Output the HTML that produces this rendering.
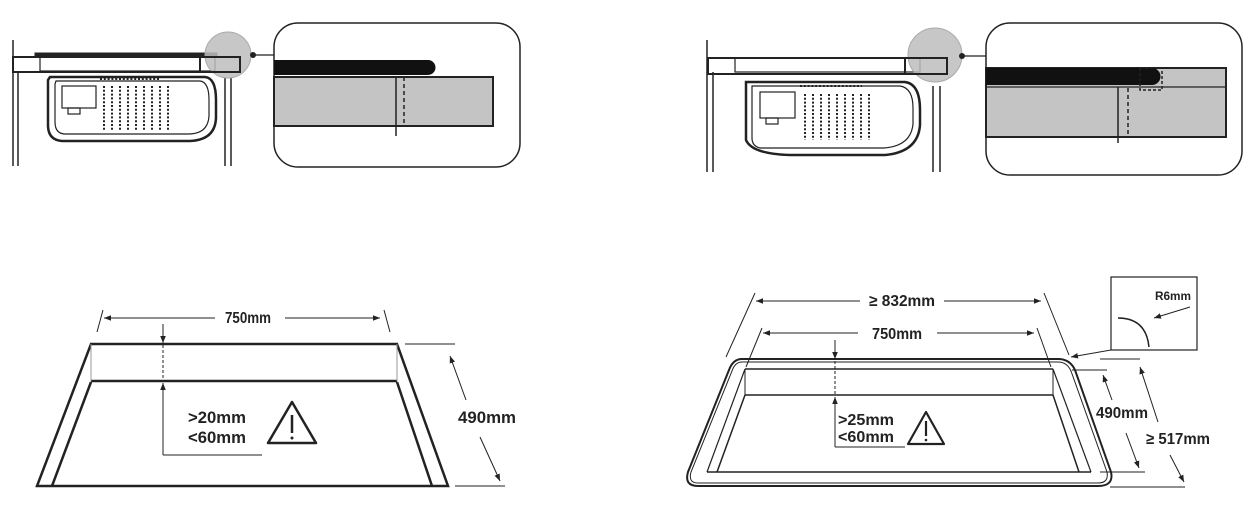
<!DOCTYPE html>
<html><head><meta charset="utf-8"><style>
html,body{margin:0;padding:0;background:#fff;}
svg{display:block;}
text{font-family:"Liberation Sans",sans-serif;font-weight:bold;fill:#222;}
</style></head><body>
<svg width="1258" height="509" viewBox="0 0 1258 509" xmlns="http://www.w3.org/2000/svg">
<defs>
<marker id="a" viewBox="0 0 10 10" refX="10" refY="5" markerWidth="7" markerHeight="7" orient="auto-start-reverse"><path d="M0,1 L10,5 L0,9 z" fill="#222"/></marker>
</defs>
<g stroke="#222" fill="none">
<!-- ===== Top-left ===== -->
<line x1="13" y1="40" x2="13" y2="166" stroke-width="1.5"/>
<line x1="18" y1="72" x2="18" y2="166" stroke-width="1.5"/>
<rect x="13" y="57" width="227" height="15" stroke-width="2"/>
<rect x="35" y="53" width="182" height="4" fill="#222" stroke-width="1"/>
<rect x="40" y="57" width="175" height="14" stroke-width="1.2"/>
<path d="M50,77 H205 Q216,78 216,100 V118 Q215,140 190,141 H62 Q48,140 48,125 V80 Z" stroke-width="2.5"/>
<path d="M56,81 H200 Q209,82 209,100 V116 Q208,134 188,134 H64 Q55,133 55,122 V84 Z" stroke-width="1.2"/>
<rect x="62" y="86" width="34" height="22" stroke-width="1.2"/>
<rect x="68" y="108" width="12" height="6" stroke-width="1.2"/>
<g stroke-width="2" stroke-dasharray="2 1.8">
<line x1="104" y1="86" x2="104" y2="131"/><line x1="112" y1="86" x2="112" y2="131"/><line x1="120" y1="86" x2="120" y2="131"/><line x1="128" y1="86" x2="128" y2="131"/><line x1="136" y1="86" x2="136" y2="131"/><line x1="144" y1="86" x2="144" y2="131"/><line x1="152" y1="86" x2="152" y2="131"/><line x1="160" y1="86" x2="160" y2="131"/><line x1="168" y1="86" x2="168" y2="131"/>
<line x1="100" y1="79" x2="160" y2="79"/>
</g>
<line x1="225" y1="78" x2="225" y2="166" stroke-width="1.5"/>
<line x1="231" y1="78" x2="231" y2="166" stroke-width="1.5"/>
<circle cx="228" cy="55" r="23" fill="#bdbdbd" stroke="#aaa" stroke-width="1" fill-opacity="0.85"/>
<rect x="200" y="57" width="40" height="15" stroke-width="2"/>
<circle cx="253" cy="55" r="3" fill="#222" stroke="none"/>
<line x1="253" y1="55" x2="274" y2="55" stroke-width="1.2"/>
<rect x="274" y="23" width="246" height="144" rx="24" stroke-width="1.5"/>
<rect x="274" y="77" width="219" height="49" fill="#c4c4c4" stroke-width="2"/>
<path d="M274,60 H428 A7.5,7.5 0 0 1 428,75 H274 Z" fill="#111" stroke="none"/>
<line x1="396" y1="77" x2="396" y2="136" stroke-width="1.5"/>
<line x1="404" y1="77" x2="404" y2="126" stroke-width="1.5" stroke-dasharray="4 3"/>

<!-- ===== Top-right ===== -->
<line x1="707" y1="40" x2="707" y2="172" stroke-width="1.5"/>
<line x1="713" y1="72" x2="713" y2="172" stroke-width="1.5"/>
<rect x="708" y="58" width="239" height="16" stroke-width="2"/>
<rect x="735" y="58" width="185" height="14" stroke-width="1.2"/>
<path d="M746,82 H905 Q920,84 920,110 V125 Q918,152 885,155 H790 Q752,154 746,140 Z" stroke-width="2.5"/>
<path d="M752,86 H900 Q913,88 913,108 V124 Q911,146 884,148 H760 Q752,146 752,138 Z" stroke-width="1.2"/>
<rect x="760" y="92" width="35" height="26" stroke-width="1.2"/>
<rect x="766" y="118" width="12" height="6" stroke-width="1.2"/>
<g stroke-width="2" stroke-dasharray="2 1.8">
<line x1="805" y1="94" x2="805" y2="140"/><line x1="813" y1="94" x2="813" y2="140"/><line x1="821" y1="94" x2="821" y2="140"/><line x1="829" y1="94" x2="829" y2="140"/><line x1="837" y1="94" x2="837" y2="140"/><line x1="845" y1="94" x2="845" y2="140"/><line x1="853" y1="94" x2="853" y2="140"/><line x1="861" y1="94" x2="861" y2="140"/><line x1="869" y1="94" x2="869" y2="140"/>
<line x1="800" y1="86" x2="862" y2="86"/>
</g>
<line x1="933" y1="86" x2="933" y2="172" stroke-width="1.5"/>
<line x1="940" y1="86" x2="940" y2="172" stroke-width="1.5"/>
<circle cx="935" cy="55" r="27" fill="#bdbdbd" stroke="#aaa" stroke-width="1" fill-opacity="0.85"/>
<rect x="905" y="58" width="42" height="16" stroke-width="2"/>
<circle cx="962" cy="56" r="3" fill="#222" stroke="none"/>
<line x1="962" y1="56" x2="986" y2="56" stroke-width="1.2"/>
<rect x="986" y="23" width="256" height="152" rx="24" stroke-width="1.5"/>
<rect x="986" y="68" width="240" height="69" fill="#c4c4c4" stroke-width="2"/>
<path d="M986,68 H1152 A8.5,8.5 0 0 1 1152,85 H986 Z" fill="#111" stroke="none"/>
<line x1="986" y1="87" x2="1226" y2="87" stroke-width="1.2"/>
<rect x="1140" y="68" width="22" height="22" stroke-width="1.5" stroke-dasharray="3 2"/>
<line x1="1118" y1="87" x2="1118" y2="143" stroke-width="1.5"/>
<line x1="1128" y1="88" x2="1128" y2="137" stroke-width="1.5" stroke-dasharray="4 3"/>

<!-- ===== Bottom-left ===== -->
<path d="M91,344 H397 L448,486 H37 Z" stroke-width="2.5"/>
<line x1="91" y1="381" x2="397" y2="381" stroke-width="2.5"/>
<line x1="91" y1="344" x2="91" y2="381" stroke-width="1" stroke="#999"/>
<line x1="397" y1="344" x2="397" y2="381" stroke-width="1" stroke="#999"/>
<line x1="91" y1="382" x2="52" y2="486" stroke-width="2.5"/>
<line x1="397" y1="382" x2="432" y2="486" stroke-width="2.5"/>
<line x1="97" y1="332" x2="103" y2="310" stroke-width="1"/>
<line x1="390" y1="332" x2="384" y2="310" stroke-width="1"/>
<line x1="104" y1="318" x2="215" y2="318" stroke-width="1" marker-start="url(#a)"/>
<line x1="285" y1="318" x2="380" y2="318" stroke-width="1" marker-end="url(#a)"/>
<line x1="163" y1="324" x2="163" y2="343" stroke-width="1" marker-end="url(#a)"/>
<line x1="163" y1="345" x2="163" y2="381" stroke-width="1" stroke-dasharray="3 2"/>
<line x1="163" y1="455" x2="163" y2="383" stroke-width="1" marker-end="url(#a)"/>
<line x1="163" y1="455" x2="262" y2="455" stroke-width="1"/>
<path d="M292,402 L316,443 H268 Z" stroke-width="2.5" stroke-linejoin="round"/>
<line x1="292" y1="415" x2="292" y2="433" stroke-width="2.5"/>
<circle cx="292" cy="438" r="1.5" fill="#222" stroke="none"/>
<line x1="405" y1="344" x2="455" y2="344" stroke-width="1"/>
<line x1="455" y1="486" x2="505" y2="486" stroke-width="1"/>
<line x1="450" y1="356" x2="466" y2="400" stroke-width="1" marker-start="url(#a)"/>
<line x1="480" y1="437" x2="500" y2="481" stroke-width="1" marker-end="url(#a)"/>

<!-- ===== Bottom-right ===== -->
<path d="M742,359 H1058 Q1070,359 1075,370 L1111,472 Q1114,486 1098,486 H698 Q684,486 688,472 L729,370 Q733,359 742,359 Z" stroke-width="2"/>
<path d="M742,362 H1058 Q1067,362 1071,371 L1107,472 Q1109,483 1098,483 H698 Q688,483 691,472 L732,371 Q735,362 742,362 Z" stroke-width="1"/>
<line x1="745" y1="369" x2="1053" y2="369" stroke-width="1.5"/>
<line x1="745" y1="395" x2="1053" y2="395" stroke-width="1.5"/>
<line x1="745" y1="369" x2="745" y2="395" stroke-width="1"/>
<line x1="1053" y1="369" x2="1053" y2="395" stroke-width="1"/>
<line x1="745" y1="369" x2="707" y2="472" stroke-width="1.2"/>
<line x1="745" y1="395" x2="717" y2="472" stroke-width="1.5"/>
<line x1="1053" y1="369" x2="1091" y2="472" stroke-width="1.2"/>
<line x1="1053" y1="395" x2="1079" y2="472" stroke-width="1.5"/>
<line x1="707" y1="472" x2="1091" y2="472" stroke-width="1.5"/>
<line x1="726" y1="357" x2="755" y2="293" stroke-width="1"/>
<line x1="1069" y1="355" x2="1044" y2="293" stroke-width="1"/>
<line x1="756" y1="301" x2="860" y2="301" stroke-width="1" marker-start="url(#a)"/>
<line x1="944" y1="301" x2="1041" y2="301" stroke-width="1" marker-end="url(#a)"/>
<line x1="746" y1="367" x2="762" y2="328" stroke-width="1"/>
<line x1="1051" y1="367" x2="1037" y2="328" stroke-width="1"/>
<line x1="763" y1="333" x2="858" y2="333" stroke-width="1" marker-start="url(#a)"/>
<line x1="937" y1="333" x2="1034" y2="333" stroke-width="1" marker-end="url(#a)"/>
<line x1="835" y1="340" x2="835" y2="359" stroke-width="1" marker-end="url(#a)"/>
<line x1="835" y1="361" x2="835" y2="394" stroke-width="1" stroke-dasharray="3 2"/>
<line x1="835" y1="447" x2="835" y2="397" stroke-width="1" marker-end="url(#a)"/>
<line x1="835" y1="447" x2="905" y2="447" stroke-width="1"/>
<path d="M926,412 L944,444 H908 Z" stroke-width="2.2" stroke-linejoin="round"/>
<line x1="926" y1="421" x2="926" y2="436" stroke-width="2.2"/>
<circle cx="926" cy="440" r="1.3" fill="#222" stroke="none"/>
<rect x="1111" y="277" width="86" height="73" stroke-width="1.2"/>
<path d="M1118,318 Q1146,318 1149,347" stroke-width="1.5"/>
<line x1="1190" y1="307" x2="1154" y2="318" stroke-width="1" marker-end="url(#a)"/>
<line x1="1111" y1="350" x2="1071" y2="357" stroke-width="1" marker-end="url(#a)"/>
<line x1="1072" y1="370" x2="1107" y2="370" stroke-width="1"/>
<line x1="1100" y1="472" x2="1145" y2="472" stroke-width="1"/>
<line x1="1103" y1="375" x2="1112" y2="400" stroke-width="1" marker-start="url(#a)"/>
<line x1="1126" y1="433" x2="1139" y2="468" stroke-width="1" marker-end="url(#a)"/>
<line x1="1100" y1="359" x2="1140" y2="359" stroke-width="1"/>
<line x1="1110" y1="487" x2="1185" y2="487" stroke-width="1"/>
<line x1="1140" y1="367" x2="1158" y2="422" stroke-width="1" marker-start="url(#a)"/>
<line x1="1170" y1="455" x2="1184" y2="482" stroke-width="1" marker-end="url(#a)"/>
</g>
<g>
<text x="248" y="323" font-size="16" text-anchor="middle" textLength="46" lengthAdjust="spacingAndGlyphs">750mm</text>
<text x="188" y="423" font-size="17" textLength="58" lengthAdjust="spacingAndGlyphs">&gt;20mm</text>
<text x="188" y="443" font-size="17" textLength="58" lengthAdjust="spacingAndGlyphs">&lt;60mm</text>
<text x="487" y="423" font-size="17" text-anchor="middle" textLength="58" lengthAdjust="spacingAndGlyphs">490mm</text>
<text x="902" y="306" font-size="16" text-anchor="middle" textLength="66" lengthAdjust="spacingAndGlyphs">≥ 832mm</text>
<text x="897" y="339" font-size="16" text-anchor="middle" textLength="50" lengthAdjust="spacingAndGlyphs">750mm</text>
<text x="838" y="425" font-size="16" textLength="56" lengthAdjust="spacingAndGlyphs">&gt;25mm</text>
<text x="838" y="442" font-size="16" textLength="56" lengthAdjust="spacingAndGlyphs">&lt;60mm</text>
<text x="1096" y="418" font-size="16" textLength="52" lengthAdjust="spacingAndGlyphs">490mm</text>
<text x="1146" y="444" font-size="16" textLength="64" lengthAdjust="spacingAndGlyphs">≥ 517mm</text>
<text x="1155" y="300" font-size="12" textLength="36" lengthAdjust="spacingAndGlyphs">R6mm</text>
</g>
</svg>
</body></html>
